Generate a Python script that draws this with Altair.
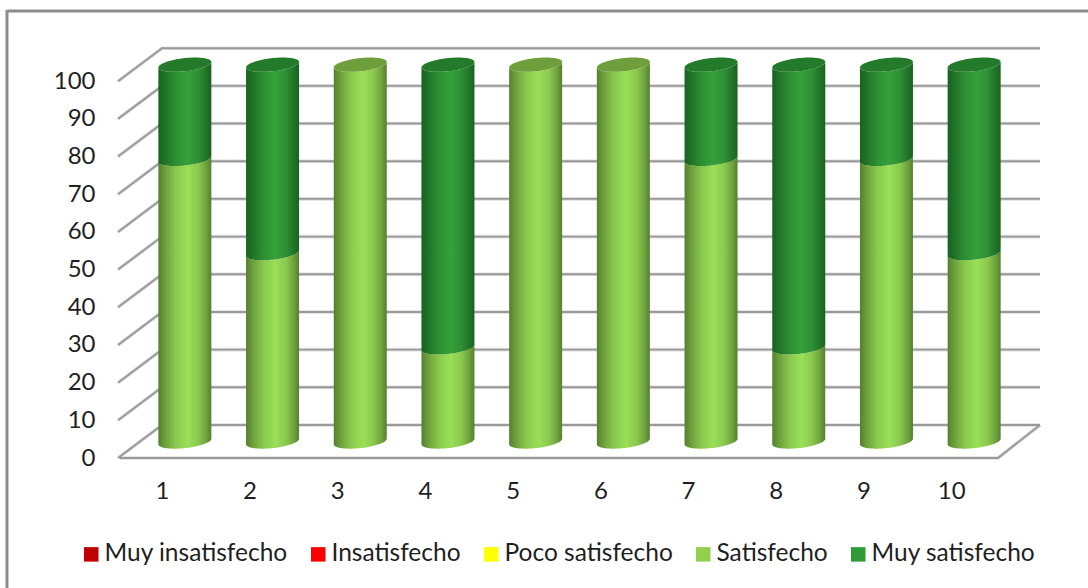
import altair as alt
import numpy as np
import pandas as pd

# Survey responses per item, percent of answers in each category
items = [1, 2, 3, 4, 5, 6, 7, 8, 9, 10]
satisfecho = [75, 50, 100, 25, 100, 100, 75, 25, 75, 50]
muy_satisfecho = [25, 50, 0, 75, 0, 0, 25, 75, 25, 50]
series_names = ["Muy insatisfecho", "Insatisfecho", "Poco satisfecho", "Satisfecho", "Muy satisfecho"]
series_colors = ["#C00000", "#FF0000", "#FFFF00", "#92D050", "#2E9B36"]
y_ticks = [0, 10, 20, 30, 40, 50, 60, 70, 80, 90, 100]

FONT = "Lato"
TEXT = "#1f1f1f"

# Plot box in pixels, and how the oblique projection maps onto data units
PX_W, PX_H = 920, 410
PX_PER_ITEM = 87.7
PX_PER_PCT = 3.768
DEPTH_X = 42 / PX_PER_ITEM   # item units from front plane to back wall
DEPTH_Y = 33 / PX_PER_PCT    # percent units from front plane to back wall
X_MIN = 0.5
X_MAX = X_MIN + PX_W / PX_PER_ITEM
Y_MAX = PX_H / PX_PER_PCT

x_scale = alt.Scale(domain=[X_MIN, X_MAX], nice=False, zero=False)
y_scale = alt.Scale(domain=[0, Y_MAX], nice=False, zero=False)

# Labels-only axes sitting on the front plane of the box
x_axis = alt.Axis(
    values=items, format="d", title=None, domain=False, ticks=False, grid=False,
    labelFont=FONT, labelFontSize=24, labelColor=TEXT, labelPadding=21, labelAngle=0,
    labelOverlap=False, labelFlush=False, labelOffset=-2,
)
y_axis = alt.Axis(
    values=y_ticks, format="d", title=None, domain=False, ticks=False, grid=False,
    labelFont=FONT, labelFontSize=24, labelColor=TEXT, labelPadding=25, labelOverlap=False,
    labelFlush=False,
)
X = alt.X("x:Q", scale=x_scale, axis=x_axis)
Y = alt.Y("y:Q", scale=y_scale, axis=y_axis)

# Cylinder cross-section, expressed in data units
HALF_W = 26.5 / PX_PER_ITEM
ELL_H = 6.6 / PX_PER_PCT
ELL_TILT = 2.8 / PX_PER_PCT
U = np.sin(np.linspace(-np.pi / 2, np.pi / 2, 49))


def cyl_x(item):
    return item + DEPTH_X / 2 + U * HALF_W


def front_edge(level):
    return level + DEPTH_Y / 2 + U * ELL_TILT - ELL_H * np.sqrt(1 - U**2)


def back_edge(level):
    return level + DEPTH_Y / 2 + U * ELL_TILT + ELL_H * np.sqrt(1 - U**2)


def body_rows(lows, highs):
    frames = []
    for item, lo, hi in zip(items, lows, highs):
        if hi > lo:
            frames.append(pd.DataFrame({"item": item, "x": cyl_x(item), "y": front_edge(lo), "y2": front_edge(hi)}))
    return pd.concat(frames)


def cap_rows(levels, keep):
    frames = []
    for item, level, k in zip(items, levels, keep):
        if k:
            frames.append(pd.DataFrame({"item": item, "x": cyl_x(item), "y": front_edge(level), "y2": back_edge(level)}))
    return pd.concat(frames)


def sheen(stops):
    return alt.LinearGradient(
        gradient="linear", x1=0, y1=0, x2=1, y2=0,
        stops=[alt.GradientStop(offset=o, color=c) for o, c in stops],
    )


def area_layer(frame, fill):
    return alt.Chart(frame).mark_area(color=fill, clip=False, line=False).encode(
        x=X, y=Y, y2="y2:Q", detail="item:N",
    )


# Walls and floor of the 3D box
wall_rows = []
for t in y_ticks:
    wall_rows.append({"seg": f"d{t}", "x": X_MIN - 2 / PX_PER_ITEM, "y": t, "o": 0})
    wall_rows.append({"seg": f"d{t}", "x": X_MIN + DEPTH_X, "y": t + DEPTH_Y, "o": 1})
    wall_rows.append({"seg": f"d{t}", "x": X_MAX, "y": t + DEPTH_Y, "o": 2})
wall_rows += [
    {"seg": "floor", "x": X_MIN, "y": 0, "o": 0},
    {"seg": "floor", "x": X_MAX - DEPTH_X, "y": 0, "o": 1},
    {"seg": "floor", "x": X_MAX, "y": DEPTH_Y, "o": 2},
]
walls = pd.DataFrame(wall_rows)


def wall_layer(width, color):
    return alt.Chart(walls).mark_line(strokeWidth=width, color=color, clip=False).encode(
        x=X, y=Y, detail="seg:N", order="o:Q",
    )


# Outer frame: open towards the right and bottom page edges
frame_top = alt.Chart(pd.DataFrame({"k": [0]})).mark_rule(strokeWidth=3, color="#8c8c8c").encode(
    x=alt.value(-113), x2=alt.value(968), y=alt.value(-37)
)
frame_left = alt.Chart(pd.DataFrame({"k": [0]})).mark_rule(strokeWidth=3, color="#8c8c8c").encode(
    x=alt.value(-113), y=alt.value(-38), y2=alt.value(540)
)

# Legend built from the full list of response categories
legend_layer = alt.Chart(pd.DataFrame({
    "Serie": series_names, "x": [1] * 5, "y": [0] * 5,
})).mark_square(opacity=0, size=1).encode(
    x=X,
    y=Y,
    color=alt.Color("Serie:N", sort=series_names, scale=alt.Scale(domain=series_names, range=series_colors), legend=alt.Legend(
        orient="none", legendX=-41, legendY=494, direction="horizontal", columns=5, title=None,
        symbolType="square", symbolSize=210, symbolOpacity=1, symbolStrokeWidth=0,
        labelFont=FONT, labelFontSize=24.5, labelColor=TEXT, labelOffset=1,
        columnPadding=18, labelLimit=300, padding=0,
    )),
)

light = sheen([(0, "#567F30"), (0.14, "#6FA33D"), (0.33, "#8AC94D"), (0.55, "#9ADF58"),
               (0.75, "#8AC94D"), (0.9, "#6FA33D"), (1, "#567F30")])
dark = sheen([(0, "#17621F"), (0.14, "#217528"), (0.33, "#2D9033"), (0.55, "#36A03B"),
              (0.75, "#2D9033"), (0.9, "#217528"), (1, "#17621F")])
tops_light = [s > 0 and m == 0 for s, m in zip(satisfecho, muy_satisfecho)]
tops_dark = [m > 0 for m in muy_satisfecho]
totals = [s + m for s, m in zip(satisfecho, muy_satisfecho)]

chart = alt.layer(
    frame_top,
    frame_left,
    wall_layer(3.6, "#dedede"),
    wall_layer(1.9, "#9a9a9a"),
    area_layer(body_rows([0] * 10, satisfecho), light),
    area_layer(cap_rows(satisfecho, tops_light), "#6F9F3C"),
    area_layer(body_rows(satisfecho, totals), dark),
    area_layer(cap_rows(totals, tops_dark), "#247A2B"),
    legend_layer,
).properties(
    width=PX_W,
    height=PX_H,
    padding={"left": 120, "top": 48, "right": 48, "bottom": 130},
    autosize=alt.AutoSizeParams(type="none"),
    background="white",
).configure_view(stroke=None)

chart.save("out.html", embed_options={"renderer": "svg", "actions": False})
